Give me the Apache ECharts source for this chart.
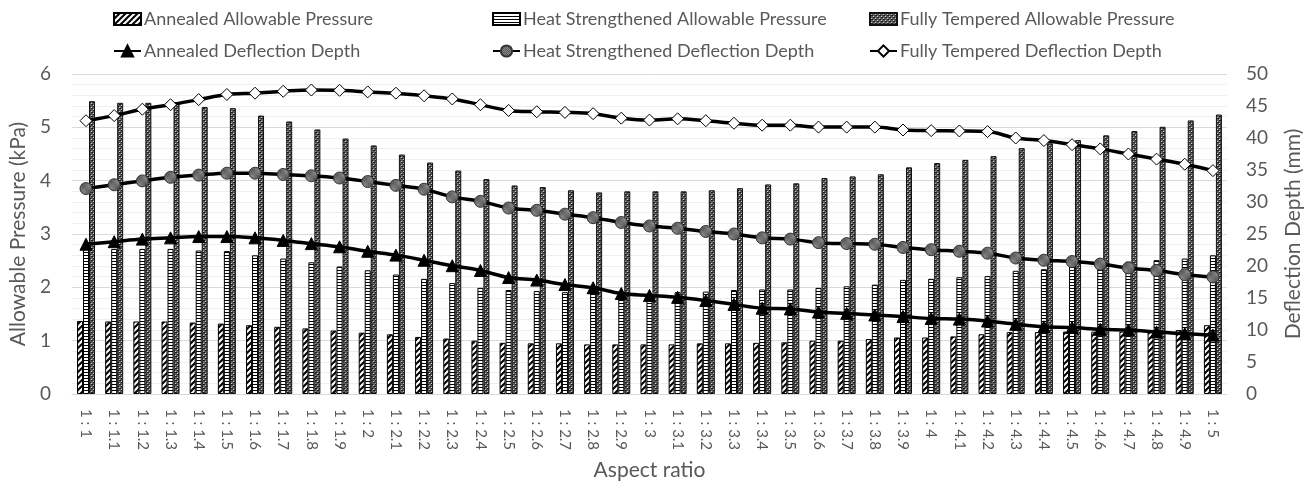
<!DOCTYPE html>
<html><head><meta charset="utf-8">
<script src="https://cdn.jsdelivr.net/npm/echarts@6/dist/echarts.min.js"></script>
<style>html,body{margin:0;padding:0;background:#fff}#c{width:1312px;height:488px}</style>
</head><body><div id="c"></div>
<script>
const categories = ['1 : 1','1 : 1.1','1 : 1.2','1 : 1.3','1 : 1.4','1 : 1.5','1 : 1.6','1 : 1.7','1 : 1.8','1 : 1.9',
 '1 : 2','1 : 2.1','1 : 2.2','1 : 2.3','1 : 2.4','1 : 2.5','1 : 2.6','1 : 2.7','1 : 2.8','1 : 2.9',
 '1 : 3','1 : 3.1','1 : 3.2','1 : 3.3','1 : 3.4','1 : 3.5','1 : 3.6','1 : 3.7','1 : 3.8','1 : 3.9',
 '1 : 4','1 : 4.1','1 : 4.2','1 : 4.3','1 : 4.4','1 : 4.5','1 : 4.6','1 : 4.7','1 : 4.8','1 : 4.9','1 : 5'];
const annealedPressure = [1.37,1.36,1.36,1.36,1.34,1.32,1.29,1.26,1.23,1.19,1.15,1.12,1.07,1.04,
 1.00,0.96,0.95,0.95,0.93,0.93,0.93,0.93,0.95,0.95,0.96,0.97,1.00,1.00,1.03,
 1.06,1.06,1.08,1.12,1.16,1.16,1.17,1.17,1.17,1.17,1.20,1.29];
const heatPressure = [2.72,2.72,2.72,2.72,2.69,2.68,2.60,2.54,2.47,2.39,2.32,2.24,2.16,2.08,
 1.99,1.95,1.93,1.91,1.90,1.89,1.88,1.91,1.92,1.95,1.96,1.96,1.99,2.02,2.05,
 2.14,2.16,2.19,2.21,2.31,2.34,2.39,2.44,2.48,2.51,2.54,2.60];
const fullyPressure = [5.49,5.46,5.46,5.47,5.38,5.36,5.22,5.11,4.96,4.79,4.66,4.49,4.34,4.19,
 4.03,3.91,3.88,3.82,3.78,3.80,3.80,3.80,3.82,3.86,3.93,3.95,4.05,4.08,4.12,
 4.25,4.33,4.39,4.46,4.61,4.70,4.76,4.85,4.93,5.01,5.13,5.24];
const annealedDeflection = [23.4,23.8,24.2,24.4,24.6,24.6,24.4,24.0,23.5,23.0,22.3,21.7,20.9,20.05,
 19.3,18.2,17.8,17.1,16.6,15.7,15.4,15.1,14.6,14.0,13.4,13.3,12.8,12.6,12.35,
 12.1,11.8,11.7,11.4,10.9,10.5,10.4,10.1,10.0,9.7,9.4,9.2];
const heatDeflection = [32.1,32.7,33.3,33.85,34.2,34.5,34.5,34.3,34.1,33.75,33.2,32.6,32.0,30.8,
 30.1,29.06,28.7,28.1,27.55,26.8,26.25,25.9,25.4,25.0,24.4,24.2,23.65,23.5,23.4,
 22.9,22.55,22.3,22.0,21.25,20.9,20.7,20.3,19.7,19.3,18.65,18.3];
const fullyDeflection = [42.7,43.5,44.5,45.2,46.0,46.8,47.0,47.3,47.5,47.45,47.2,47.0,46.6,46.1,
 45.2,44.3,44.1,44.0,43.8,43.1,42.8,43.0,42.7,42.3,42.0,42.0,41.7,41.7,41.7,
 41.25,41.15,41.1,41.0,40.0,39.6,38.96,38.3,37.5,36.7,35.9,34.9];
const leftTicks = {min:0, max:6, interval:1};
const rightTicks = {min:0, max:50, interval:5};

function diagPattern(){
  const c=document.createElement('canvas');c.width=6;c.height=6;const g=c.getContext('2d');
  g.fillStyle='#fff';g.fillRect(0,0,6,6);g.strokeStyle='#000';g.lineWidth=2;
  [[-6,6,6,-6],[0,6,6,0],[0,12,12,0]].forEach(l=>{g.beginPath();g.moveTo(l[0],l[1]);g.lineTo(l[2],l[3]);g.stroke();});
  return {image:c,repeat:'repeat'};
}
function horizPattern(){
  const c=document.createElement('canvas');c.width=4;c.height=3;const g=c.getContext('2d');
  g.fillStyle='#fff';g.fillRect(0,0,4,3);g.fillStyle='#000';g.fillRect(0,0,4,1);
  return {image:c,repeat:'repeat'};
}
function dotPattern(){
  const c=document.createElement('canvas');c.width=4;c.height=4;const g=c.getContext('2d');
  g.fillStyle='#5e5e5e';g.fillRect(0,0,4,4);
  g.fillStyle='#1a1a1a';g.fillRect(0,0,1,1);g.fillRect(2,2,1,1);g.fillRect(1,2,1,1);g.fillRect(3,0,1,1);
  g.fillStyle='#cfcfcf';g.fillRect(1,1,1,1);g.fillRect(3,3,1,1);
  return {image:c,repeat:'repeat'};
}
function circPattern(){
  const c=document.createElement('canvas');c.width=2;c.height=2;const g=c.getContext('2d');
  g.fillStyle='#8a8a8a';g.fillRect(0,0,2,2);g.fillStyle='#555';g.fillRect(0,0,1,1);g.fillRect(1,1,1,1);
  return {image:c,repeat:'repeat'};
}

const txt = '#595959';
const font = 'Lato, "Open Sans", sans-serif';
const chart = echarts.init(document.getElementById('c'), null, {renderer:'canvas'});
const names = ['Annealed Allowable Pressure','Heat Strengthened Allowable Pressure','Fully Tempered Allowable Pressure',
 'Annealed Deflection Depth','Heat Strengthened Deflection Depth','Fully Tempered Deflection Depth'];
const legPos = [[113,10],[492,10],[869,10],[113,42],[492,42],[869,42]];
const legends = names.map((n,i)=>({
  data:[n], left:legPos[i][0], top:legPos[i][1], padding:0, itemGap:0,
  itemWidth:27, itemHeight: i<3 ? 12 : 14,
  icon: i<3 ? 'rect' : undefined,
  textStyle:{color:txt, fontSize:18, fontFamily:font, padding:[0,0,0,-2]}
}));
const barBase = {type:'bar', barWidth:6, barGap:'0%', yAxisIndex:0,
  itemStyle:{borderColor:'#000', borderWidth:1}};
const lineBase = {type:'line', yAxisIndex:1, smooth:0.35, lineStyle:{color:'#000', width:3.5}, z:5};
chart.setOption({
  animation:false,
  textStyle:{fontFamily:font},
  legend: legends,
  grid:{left:68, right:84, top:74, bottom:94},
  xAxis:{type:'category', data:categories,
    axisLine:{lineStyle:{color:'#d9d9d9'}}, axisTick:{show:false},
    axisLabel:{rotate:-90, color:txt, fontSize:15, margin:15, interval:0, fontFamily:font},
    name:'Aspect ratio', nameLocation:'middle', nameGap:66,
    nameTextStyle:{color:txt, fontSize:21, fontFamily:font}},
  yAxis:[
    {type:'value', min:leftTicks.min, max:leftTicks.max, interval:leftTicks.interval,
     axisLine:{show:false}, axisTick:{show:false},
     axisLabel:{color:txt, fontSize:19, margin:21, fontFamily:font},
     splitLine:{lineStyle:{color:'#d9d9d9', width:1}},
     minorTick:{show:false, splitNumber:5},
     minorSplitLine:{show:true, lineStyle:{color:'#efefef', width:1}},
     name:'Allowable Pressure (kPa)', nameLocation:'middle', nameGap:38,
     nameTextStyle:{color:txt, fontSize:21, fontFamily:font}},
    {type:'value', min:rightTicks.min, max:rightTicks.max, interval:rightTicks.interval,
     axisLine:{show:false}, axisTick:{show:false}, splitLine:{show:false},
     axisLabel:{color:txt, fontSize:19, margin:19, fontFamily:font},
     name:'Deflection Depth (mm)', nameLocation:'middle', nameGap:56,
     nameTextStyle:{color:txt, fontSize:21, fontFamily:font}}
  ],
  series:[
    Object.assign({}, barBase, {name:names[0], data:annealedPressure, barCategoryGap:'37%',
      itemStyle:{color:diagPattern(), borderColor:'#000', borderWidth:1}}),
    Object.assign({}, barBase, {name:names[1], data:heatPressure,
      itemStyle:{color:horizPattern(), borderColor:'#000', borderWidth:1}}),
    Object.assign({}, barBase, {name:names[2], data:fullyPressure,
      itemStyle:{color:dotPattern(), borderColor:'#111', borderWidth:1}}),
    Object.assign({}, lineBase, {name:names[3], data:annealedDeflection, symbol:'triangle', symbolSize:12,
      itemStyle:{color:'#000', borderColor:'#000', borderWidth:1}}),
    Object.assign({}, lineBase, {name:names[4], data:heatDeflection, symbol:'circle', symbolSize:12,
      itemStyle:{color:circPattern(), borderColor:'#333', borderWidth:1}}),
    Object.assign({}, lineBase, {name:names[5], data:fullyDeflection, symbol:'diamond', symbolSize:12,
      itemStyle:{color:'#fff', borderColor:'#000', borderWidth:1}})
  ]
});
</script></body></html>
